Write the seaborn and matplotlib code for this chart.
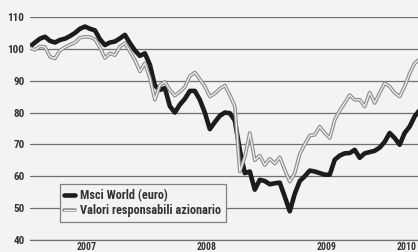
import numpy as np
import pandas as pd
import matplotlib
matplotlib.use("Agg")
import matplotlib.pyplot as plt
import matplotlib.dates as mdates
import matplotlib.patheffects as pe
import seaborn as sns

# values, roughly every half month
dates = pd.date_range("2007-01-11", "2010-04-11", periods=79)

msci_world = [100.7, 102.0, 103.2, 103.8, 102.5, 102.0, 102.8, 103.2, 104.0, 105.0,
              106.3, 107.0, 106.3, 105.8, 103.0, 101.2, 102.0, 102.3, 103.3, 104.4,
              101.8, 99.5, 97.8, 98.6, 95.0, 88.5, 87.1, 87.7, 82.0, 80.0,
              82.5, 84.3, 86.8, 86.8, 84.0, 80.0, 74.8, 77.0, 79.0, 80.0,
              79.8, 77.5, 68.3, 61.0, 61.5, 55.8, 58.9, 58.5, 57.5, 57.8,
              58.0, 53.6, 49.0, 54.5, 58.5, 60.0, 61.8, 61.5, 61.0, 60.5,
              60.5, 65.2, 66.5, 67.2, 67.3, 68.3, 65.8, 67.2, 67.6, 68.0,
              69.0, 70.8, 73.6, 72.0, 69.9, 73.6, 75.6, 78.8, 80.8]

valori_resp = [100.3, 99.7, 100.8, 100.6, 97.5, 97.0, 99.5, 100.5, 101.3, 102.0,
               103.5, 103.8, 103.7, 103.0, 100.5, 97.1, 98.6, 98.0, 100.7, 101.8,
               99.2, 96.5, 92.9, 95.5, 90.8, 84.0, 88.6, 89.6, 87.1, 85.3,
               86.5, 88.0, 91.5, 92.6, 90.5, 88.2, 85.0, 86.0, 87.5, 88.5,
               85.5, 82.0, 61.5, 66.0, 73.6, 65.0, 66.5, 63.5, 65.5, 64.0,
               66.0, 62.0, 58.3, 61.0, 67.0, 70.0, 72.8, 73.0, 75.6, 73.6,
               72.0, 77.7, 80.6, 83.0, 85.5, 84.0, 84.0, 81.9, 86.3, 83.0,
               86.2, 89.2, 88.2, 86.2, 85.0, 88.2, 92.3, 95.5, 96.8]

series_names = ["Msci World (euro)", "Valori responsabili azionario"]
year_labels = ["2007", "2008", "2009", "2010"]
year_label_dates = ["2007-07-01", "2008-07-01", "2009-07-01", "2010-03-01"]
year_starts = ["2007-01-11", "2008-01-01", "2009-01-01", "2010-01-01"]
y_ticks = [40, 50, 60, 70, 80, 90, 100, 110]

df = pd.DataFrame({"date": dates, "msci": msci_world, "valori": valori_resp})

sns.set_style("white")
plt.rcParams["font.family"] = ["Roboto Condensed", "Liberation Sans Narrow",
                               "Liberation Sans", "DejaVu Sans"]
plt.rcParams["font.weight"] = "bold"

bg = "#f3f3f1"
fig = plt.figure(figsize=(4.18, 2.52), dpi=100, facecolor=bg)
ax = fig.add_axes([30 / 418, 12 / 252, 388 / 418, 223 / 252])
ax.set_facecolor(bg)

sns.lineplot(data=df, x="date", y="msci", ax=ax, color="#1c1c1c", linewidth=3.3,
             label=series_names[0])
sns.lineplot(data=df, x="date", y="valori", ax=ax, color="#ececec", linewidth=1.0,
             label=series_names[1],
             path_effects=[pe.Stroke(linewidth=2.6, foreground="#8a8a8a"), pe.Normal()])

ax.set_ylim(40, 110)
ax.set_xlim(pd.Timestamp("2007-01-11"), pd.Timestamp("2010-04-06"))
ax.set_yticks(y_ticks)
ax.set_yticklabels([str(v) for v in y_ticks], fontsize=8, fontweight="bold", color="#333333")
ax.yaxis.grid(True, color="#707070", linewidth=0.9)
ax.tick_params(axis="y", length=0, pad=4)

ax.set_xticks([mdates.date2num(pd.Timestamp(d)) for d in year_starts])
ax.set_xticklabels([])
ax.tick_params(axis="x", which="major", direction="inout", length=4, color="#707070", width=0.8)
ax.set_xticks([mdates.date2num(pd.Timestamp(d)) for d in year_label_dates], minor=True)
ax.set_xticklabels(year_labels, minor=True, fontsize=7, fontweight="bold", color="#333333")
ax.tick_params(axis="x", which="minor", length=0, pad=1.5)

for side in ["top", "right", "left"]:
    ax.spines[side].set_visible(False)
ax.spines["bottom"].set_color("#707070")
ax.spines["bottom"].set_linewidth(0.9)
ax.set_xlabel("")
ax.set_ylabel("")

leg = ax.legend(loc="lower left", bbox_to_anchor=(0.062, 0.055), frameon=True,
                fancybox=False, framealpha=1, facecolor=bg, edgecolor="#808080",
                handlelength=0.9, handletextpad=0.4, borderpad=0.35, labelspacing=0.2,
                prop={"size": 8.8, "weight": "bold"})
leg.get_frame().set_linewidth(0.9)
for txt in leg.get_texts():
    txt.set_color("#333333")

fig.savefig("out.png", dpi=100, facecolor=bg)
